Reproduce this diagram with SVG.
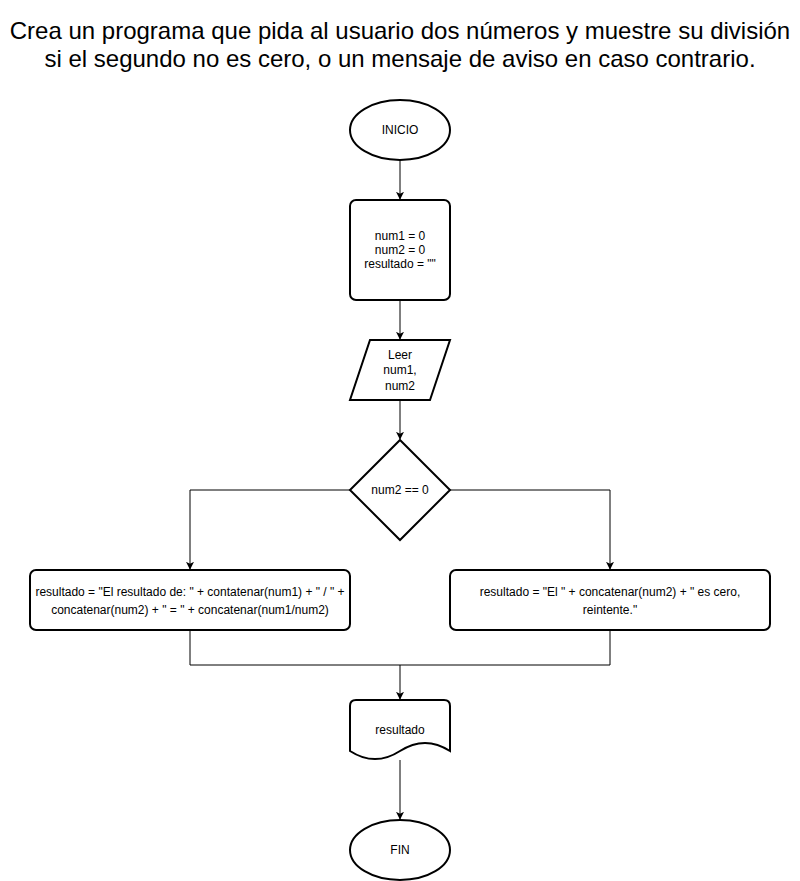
<svg xmlns="http://www.w3.org/2000/svg" width="800" height="881" viewBox="0 0 800 881">
<style>
.s{fill:#fff;stroke:#000;stroke-width:2}
.c{fill:none;stroke:#000;stroke-width:1}
.t{font-family:"Liberation Sans",Arial,sans-serif;font-size:12px;fill:#000;text-anchor:middle}
.h{font-family:"Liberation Sans",Arial,sans-serif;font-size:24px;fill:#000;text-anchor:middle}
</style>
<defs>
<marker id="a" viewBox="0 0 10 10" refX="9" refY="5" markerWidth="8" markerHeight="8" markerUnits="userSpaceOnUse" orient="auto">
<path d="M0,0 L10,5 L0,10 L2.5,5 Z" fill="#000"/>
</marker>
</defs>
<rect width="800" height="881" fill="#fff"/>
<g id="title">
<text class="h" x="400" y="39">Crea un programa que pida al usuario dos números y muestre su división</text>
<text class="h" x="400" y="67">si el segundo no es cero, o un mensaje de aviso en caso contrario.</text>
</g>
<g id="connectors">
<path class="c" d="M400,160 V199" marker-end="url(#a)"/>
<path class="c" d="M400,300 V339" marker-end="url(#a)"/>
<path class="c" d="M400,400 V439" marker-end="url(#a)"/>
<path class="c" d="M350,490 H190 V569" marker-end="url(#a)"/>
<path class="c" d="M450,490 H610 V569" marker-end="url(#a)"/>
<path class="c" d="M190,630 V665 H400 V699" marker-end="url(#a)"/>
<path class="c" d="M610,630 V665 H400"/>
<path class="c" d="M400,760 V819" marker-end="url(#a)"/>
</g>
<g id="inicio">
<ellipse class="s" cx="400" cy="130" rx="50" ry="30"/>
<text class="t" x="400" y="134">INICIO</text>
</g>
<g id="init">
<rect class="s" x="350" y="200" width="100" height="100" rx="6"/>
<text class="t" x="400" y="240">num1 = 0</text>
<text class="t" x="400" y="254">num2 = 0</text>
<text class="t" x="400" y="268">resultado = ""</text>
</g>
<g id="leer">
<path class="s" d="M370,340 H450 L430,400 H350 Z"/>
<text class="t" x="400" y="359">Leer</text>
<text class="t" x="400" y="374">num1,</text>
<text class="t" x="400" y="390">num2</text>
</g>
<g id="decision">
<path class="s" d="M400,440 L450,490 L400,540 L350,490 Z"/>
<text class="t" x="400" y="494">num2 == 0</text>
</g>
<g id="left">
<rect class="s" x="30" y="570" width="320" height="60" rx="6"/>
<text class="t" x="190" y="596">resultado = "El resultado de: " + contatenar(num1) + " / " +</text>
<text class="t" x="190" y="614">concatenar(num2) + " = " + concatenar(num1/num2)</text>
</g>
<g id="right">
<rect class="s" x="450" y="570" width="320" height="60" rx="6"/>
<text class="t" x="610" y="596">resultado = "El " + concatenar(num2) + " es cero,</text>
<text class="t" x="610" y="614">reintente."</text>
</g>
<g id="salida">
<path class="s" d="M356,700 H444 Q450,700 450,706 V751 Q425,734.8 400,751 Q375,767.2 350,751 V706 Q350,700 356,700 Z"/>
<text class="t" x="400" y="734">resultado</text>
</g>
<g id="fin">
<ellipse class="s" cx="400" cy="850" rx="50" ry="30"/>
<text class="t" x="400" y="854">FIN</text>
</g>
</svg>
